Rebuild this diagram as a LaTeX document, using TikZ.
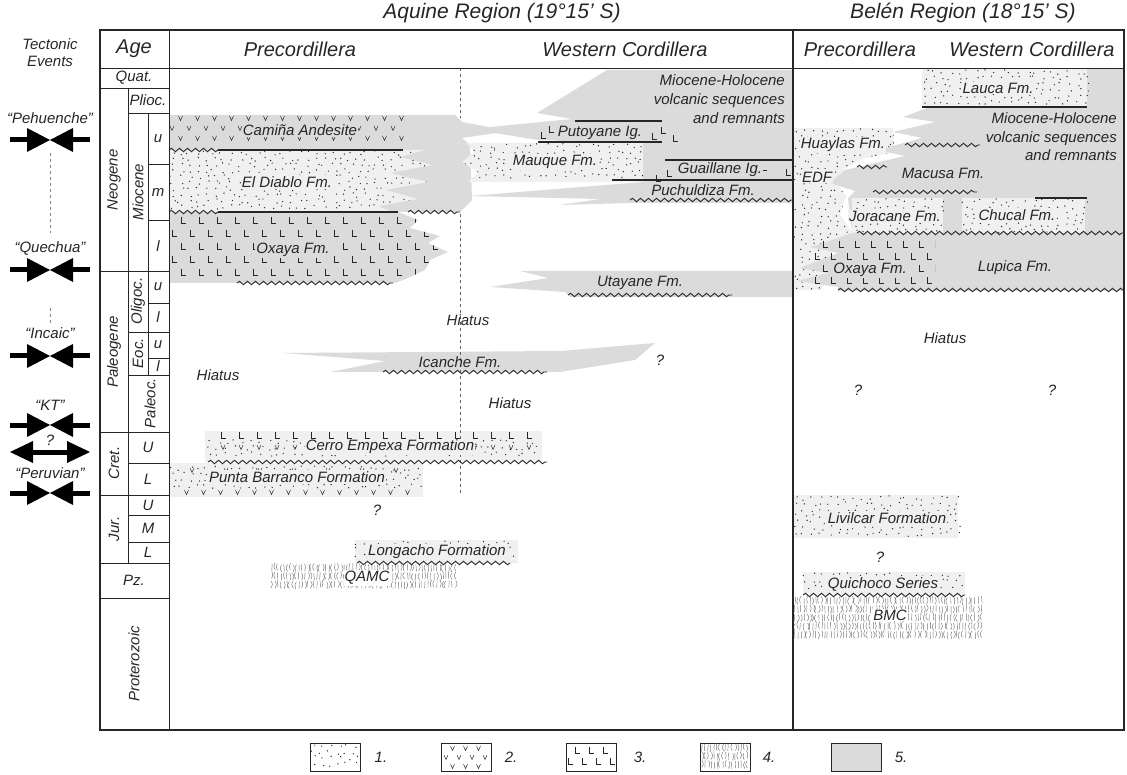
\documentclass[tikz,border=0pt]{standalone}
\usepackage{fontspec}
\setmainfont{Liberation Sans}
\usetikzlibrary{decorations.pathmorphing}

\definecolor{volc}{gray}{0.86}
\definecolor{sedi}{gray}{0.94}
\definecolor{ink}{gray}{0.15}

% lithology fills, all in pixel units: x1 y1 x2 y2 (dx dy)
\newcommand\sandpat[4]{%
  \pgfmathtruncatemacro\snc{(#3-#1-3)/8.5}\pgfmathtruncatemacro\snr{(#4-#2-3)/6}%
  \foreach \j in {0,...,\snc}{%
    \foreach \k in {0,...,\snr}{%
      \pgfmathsetmacro\xx{#1+3+\j*8.5+3.5*rand}\pgfmathsetmacro\yy{#2+3+\k*6+2.2*rand}%
      \fill[ink] (\xx,\yy) circle[radius=0.7pt];}}}
\newcommand\vpat[6]{%
  \pgfmathtruncatemacro\vnr{(#4-#2)/#6}%
  \foreach \k in {0,...,\vnr}{%
    \pgfmathsetmacro\yy{#2+\k*#6}%
    \pgfmathsetmacro\vxa{#1+mod(\k+1,2)*#5/2}%
    \pgfmathtruncatemacro\vnc{(#3-\vxa)/#5}%
    \foreach \j in {0,...,\vnc}{%
      \pgfmathsetmacro\xx{\vxa+\j*#5}%
      \draw[ink,line width=0.5pt] (\xx-2,\yy-2) -- (\xx,\yy+2.5) -- (\xx+2,\yy-2);}}}
\newcommand\lpat[6]{%
  \pgfmathtruncatemacro\lnr{(#4-#2)/#6}%
  \foreach \k in {0,...,\lnr}{%
    \pgfmathsetmacro\yy{#2+\k*#6}%
    \pgfmathsetmacro\lxa{#1+mod(\k+1,2)*#5/2}%
    \pgfmathtruncatemacro\lnc{(#3-\lxa)/#5}%
    \foreach \j in {0,...,\lnc}{%
      \pgfmathsetmacro\xx{\lxa+\j*#5}%
      \draw[ink,line width=0.7pt] (\xx,\yy-3) -- (\xx,\yy+3) -- (\xx+5,\yy+3);}}}
\newcommand\schpat[4]{%
  \pgfmathtruncatemacro\mnc{(#3-#1)/3}\pgfmathtruncatemacro\mnr{(#4-#2-8)/8.5}%
  \foreach \j in {0,...,\mnc}{%
    \foreach \k in {0,...,\mnr}{%
      \pgfmathsetmacro\xx{#1+\j*3+0.8*rand}\pgfmathsetmacro\yy{#2+\k*8.5+rand}%
      \draw[black!55,line width=0.45pt] (\xx,\yy) .. controls (\xx+2.2*rand,\yy+3.5) .. (\xx+0.6*rand,\yy+7);}}}
% tectonic symbols
\newcommand\squeezeat[1]{%
  \fill (10,#1-2.5) rectangle (29,#1+2.5);
  \fill (27,#1-12) -- (50,#1) -- (27,#1+12) -- cycle;
  \fill (73,#1-12) -- (50,#1) -- (73,#1+12) -- cycle;
  \fill (71,#1-2.5) rectangle (90,#1+2.5);}
\newcommand\stretchat[1]{%
  \fill (10,#1) -- (33,#1-11) -- (33,#1+11) -- cycle;
  \fill (32,#1-2.5) rectangle (68,#1+2.5);
  \fill (90,#1) -- (67,#1-11) -- (67,#1+11) -- cycle;}

\begin{document}
\begin{tikzpicture}[x=1pt,y=-1pt]
\tikzset{lab/.style={font=\fontsize{15}{17}\selectfont\itshape,text=ink,inner sep=1pt}}
\tikzset{hd/.style={font=\fontsize{20}{24}\selectfont\itshape,text=ink}}
\tikzset{rgn/.style={font=\fontsize{21}{25}\selectfont\itshape,text=ink}}
\tikzset{unconf/.style={draw=ink,line width=0.9pt,decorate,decoration={snake,amplitude=1.7pt,segment length=8pt}}}
\tikzset{contact/.style={draw=ink,line width=1.1pt}}
\tikzset{grid/.style={draw=ink,line width=0.9pt}}
\tikzset{frame/.style={draw=ink,line width=2.4pt}}
\pgfmathsetseed{11}
\useasboundingbox (0,0) rectangle (1127,775);

% ---- Aquine, fills
\fill[volc] (169,115) -- (455,115) -- (462,122) -- (510,131) -- (462,138) -- (470,145) -- (472,200) -- (460,212) -- (169,212) -- cycle;
\fill[sedi] (169,150) -- (425,150) -- (400,157) -- (432,165) -- (390,173) -- (428,182) -- (385,190) -- (418,199) -- (378,206) -- (392,212) -- (169,212) -- cycle;
\fill[volc] (169,212) -- (398,212) -- (418,220) -- (410,228) -- (440,236) -- (428,243) -- (448,252) -- (430,260) -- (425,270) -- (408,278) -- (395,283) -- (169,283) -- cycle;
\fill[volc] (793,70) -- (607,70) -- (537,113) -- (572,119) -- (470,129) -- (538,140) -- (643,143) -- (643,182) -- (470,196) -- (600,199) -- (560,205) -- (630,203) -- (793,203) -- cycle;
\fill[sedi] (467,143) -- (643,143) -- (643,182) -- (468,182) -- (478,172) -- (462,162) -- (474,152) -- cycle;
\fill[volc] (793,271) -- (520,271) -- (548,278) -- (490,287) -- (565,292) -- (570,297) -- (793,297) -- cycle;
\fill[volc] (283,353) -- (560,351) -- (655,343) -- (635,360) -- (560,372) -- (330,372) -- (385,361) -- cycle;
\fill[sedi] (205,431) rectangle (542,462);
\fill[sedi] (169,463) rectangle (423,497);
\fill[sedi] (355,540) rectangle (518,563);

% ---- Aquine, patterns
\vpat{172}{118}{405}{140}{17}{10}
\begin{scope}
  \clip (169,150) -- (425,150) -- (400,157) -- (432,165) -- (390,173) -- (428,182) -- (385,190) -- (418,199) -- (378,206) -- (392,212) -- (169,212) -- cycle;
  \sandpat{169}{150}{432}{210}
\end{scope}
\begin{scope}
  \clip (169,212) -- (398,212) -- (418,220) -- (410,228) -- (440,236) -- (428,243) -- (448,252) -- (430,260) -- (425,270) -- (408,278) -- (395,283) -- (169,283) -- cycle;
  \lpat{172}{220}{445}{282}{18}{13}
\end{scope}
\begin{scope}
  \clip (467,143) -- (643,143) -- (643,182) -- (468,182) -- (478,172) -- (462,162) -- (474,152) -- cycle;
  \sandpat{460}{143}{643}{181}
\end{scope}
\foreach \p in {(541,135),(549,129),(652,136),(661,130),(673,138),(656,178),(667,173),(762,167),(786,172)}
  \draw[ink,line width=0.7pt] \p ++(0,-3) -- ++(0,6) -- ++(5,0);
\lpat{212}{435}{540}{435}{18}{20}
\sandpat{207}{439}{540}{458}
\vpat{214}{447}{540}{447}{18}{20}
\sandpat{170}{465}{420}{488}
\vpat{178}{492}{420}{492}{17}{20}
\vpat{175}{470}{420}{470}{34}{10}
\sandpat{355}{540}{518}{560}
\schpat{272}{564}{457}{592}

% ---- Aquine, contacts
\draw[dashed,ink!70,line width=0.6pt] (460,68) -- (460,118);
\draw[dashed,ink!70,line width=0.6pt] (460,214) -- (460,495);
\draw[contact] (218,150) -- (403,150);
\draw[unconf] (169,150) -- (218,150);
\draw[contact] (218,212) -- (398,212);
\draw[unconf] (169,212) -- (218,212);
\draw[unconf] (408,212) -- (460,212);
\draw[unconf] (237,283) -- (393,283);
\draw[contact] (575,121) -- (662,121);
\draw[contact] (538,142) -- (662,142);
\draw[contact] (665,160) -- (793,160);
\draw[contact] (612,180) -- (793,180);
\draw[unconf] (630,200) -- (793,200);
\draw[unconf] (568,295) -- (732,295);
\draw[unconf] (383,372) -- (547,372);
\draw[unconf] (208,462) -- (547,462);
\draw[unconf] (357,563) -- (510,563);

% ---- Aquine, labels
\node[lab,fill=volc] (caminha) at (300,130) {Camiña Andesite};
\node[lab,fill=sedi] (diablo) at (287,182) {El Diablo Fm.};
\node[lab,fill=volc] (oxayaA) at (293,250) {Oxaya Fm.};
\node[lab,font=\fontsize{15}{19}\selectfont\itshape,align=right,anchor=east] (mhA) at (786,99) {Miocene-Holocene\\volcanic sequences\\and remnants};
\node[lab,fill=volc] (putoyane) at (600,133) {Putoyane Ig.};
\node[lab,fill=sedi] (mauque) at (555,162) {Mauque Fm.};
\node[lab,fill=volc] (guaillane) at (720,170) {Guaillane Ig.};
\node[lab] (puchuldiza) at (703,190) {Puchuldiza Fm.};
\node[lab] (utayane) at (640,283) {Utayane Fm.};
\node[lab] (hiatusA) at (468,320) {Hiatus};
\node[lab] (icanche) at (460,362) {Icanche Fm.};
\node[lab] (qA) at (660,360) {?};
\node[lab] (hiatusB) at (218,375) {Hiatus};
\node[lab] (hiatusC) at (510,403) {Hiatus};
\node[lab,fill=sedi] (empexa) at (390,447) {Cerro Empexa Formation};
\node[lab,fill=sedi] (barranco) at (297,477) {Punta Barranco Formation};
\node[lab] (qB) at (377,510) {?};
\node[lab,fill=sedi] (longacho) at (437,552) {Longacho Formation};
\node[lab,fill=white] (qamc) at (367,578) {QAMC};

% ---- Belen, fills
\fill[sedi] (793,128) -- (893,128) -- (895,152) -- (865,158) -- (845,168) -- (836,182) -- (846,196) -- (840,215) -- (852,232) -- (836,242) -- (828,262) -- (822,290) -- (793,290) -- cycle;
\begin{scope}
  \clip (793,128) -- (893,128) -- (895,152) -- (865,158) -- (845,168) -- (836,182) -- (846,196) -- (840,215) -- (852,232) -- (836,242) -- (828,262) -- (822,290) -- (793,290) -- cycle;
  \sandpat{791}{128}{896}{289}
\end{scope}
\fill[volc] (1124,69) -- (1087,69) -- (1087,107) -- (930,107) -- (903,117) -- (935,122) -- (893,132) -- (922,138) -- (878,150) -- (905,156) -- (845,170) -- (830,183) -- (855,191) -- (848,198) -- (852,233) -- (1124,233) -- cycle;
\fill[sedi] (922,69) rectangle (1087,107);
\sandpat{922}{69}{1087}{105}
\fill[sedi] (852,198) rectangle (943,233);
\sandpat{852}{198}{943}{231}
\fill[sedi] (962,198) rectangle (1085,233);
\sandpat{962}{198}{1085}{231}
\fill[volc] (1124,233) -- (852,233) -- (835,239) -- (810,247) -- (838,253) -- (800,268) -- (828,273) -- (797,281) -- (838,287) -- (838,291) -- (1124,291) -- cycle;
\begin{scope}
  \clip (813,238) rectangle (935,284);
  \lpat{815}{244}{935}{280}{16}{12}
\end{scope}
\fill[sedi] (793,495) rectangle (958,538);
\sandpat{793}{495}{958}{536}
\fill[sedi] (803,572) rectangle (965,595);
\sandpat{803}{572}{965}{592}
\schpat{795}{597}{982}{647}

% ---- Belen, contacts
\draw[contact] (922,107) -- (1087,107);
\draw[unconf] (905,145) -- (980,145);
\draw[unconf] (857,167) -- (887,167);
\draw[unconf] (873,192) -- (977,192);
\draw[contact] (1035,198) -- (1087,198);
\draw[unconf] (857,233) -- (1124,233);
\draw[unconf] (838,290) -- (1124,290);
\draw[unconf] (803,595) -- (965,595);

% ---- Belen, labels
\node[lab,fill=sedi] (lauca) at (998,88) {Lauca Fm.};
\node[lab,font=\fontsize{15}{18.5}\selectfont\itshape,align=right,anchor=east] (mhB) at (1118,137) {Miocene-Holocene\\volcanic sequences\\and remnants};
\node[lab,fill=sedi] (huaylas) at (843,145) {Huaylas Fm.};
\node[lab,fill=sedi] (edf) at (817,177) {EDF};
\node[lab] (macusa) at (943,173) {Macusa Fm.};
\node[lab,fill=sedi] (joracane) at (895,216) {Joracane Fm.};
\node[lab,fill=sedi] (chucal) at (1017,215) {Chucal Fm.};
\node[lab,fill=volc] (oxayaB) at (870,270) {Oxaya Fm.};
\node[lab] (lupica) at (1015,268) {Lupica Fm.};
\node[lab] (hiatusD) at (945,338) {Hiatus};
\node[lab] (qC) at (858,390) {?};
\node[lab] (qD) at (1052,390) {?};
\node[lab,fill=sedi] (livilcar) at (887,518) {Livilcar Formation};
\node[lab] (qE) at (880,557) {?};
\node[lab,fill=sedi] (quichoco) at (883,584) {Quichoco Series};
\node[lab,fill=white] (bmc) at (890,615) {BMC};

% ---- frame and age column
\draw[frame] (100,30) rectangle (1124,730);
\draw[frame] (793,30) -- (793,730);
\draw[grid] (100,68) -- (1124,68);
\draw[grid] (169,30) -- (169,730);
\draw[grid] (128,88) -- (128,563);
\draw[grid] (148,113) -- (148,375);
\foreach \y in {88,271,432,495,563,598} \draw[grid] (100,\y) -- (169,\y);
\foreach \y in {113,332,375,463,515,542} \draw[grid] (128,\y) -- (169,\y);
\foreach \y in {164,220,303,358} \draw[grid] (148,\y) -- (169,\y);

\node[hd] (age) at (134,49) {Age};
\node[hd] (precA) at (300,49) {Precordillera};
\node[hd] (westA) at (625,49) {Western Cordillera};
\node[hd] (precB) at (860,49) {Precordillera};
\node[hd] (westB) at (1032,49) {Western Cordillera};
\node[rgn] (aquine) at (502,13) {Aquine Region (19°15’ S)};
\node[rgn] (belen) at (963,13) {Belén Region (18°15’ S)};

\node[lab] (quat) at (134,78) {Quat.};
\node[lab] (plioc) at (148,100) {Plioc.};
\node[lab] (mu) at (158,139) {u};
\node[lab] (mm) at (158,192) {m};
\node[lab] (ml) at (158,246) {l};
\node[lab,rotate=90] (neogene) at (114,180) {Neogene};
\node[lab,rotate=90] (miocene) at (138,192) {Miocene};
\node[lab,rotate=90] (paleogene) at (114,352) {Paleogene};
\node[lab,rotate=90] (oligoc) at (138,301) {Oligoc.};
\node[lab,rotate=90] (eoc) at (138,353) {Eoc.};
\node[lab,rotate=90] (paleoc) at (150,403) {Paleoc.};
\node[lab] (ou) at (158,287) {u};
\node[lab] (ol) at (158,317) {l};
\node[lab] (eu) at (158,345) {u};
\node[lab] (el) at (158,366) {l};
\node[lab,rotate=90] (cret) at (114,463) {Cret.};
\node[lab] (cu) at (148,447) {U};
\node[lab] (cl) at (148,479) {L};
\node[lab,rotate=90] (jur) at (114,529) {Jur.};
\node[lab] (ju) at (148,505) {U};
\node[lab] (jm) at (148,528) {M};
\node[lab] (jl) at (148,552) {L};
\node[lab] (pz) at (134,580) {Pz.};
\node[lab,rotate=90] (proterozoic) at (134,664) {Proterozoic};

% ---- tectonic events
\node[lab,align=center] (tect) at (50,53) {Tectonic\\Events};
\node[lab] (pehuenche) at (50,118) {“Pehuenche”};
\squeezeat{140}
\node[lab] (quechua) at (50,248) {“Quechua”};
\squeezeat{270}
\node[lab] (incaic) at (50,333) {“Incaic”};
\squeezeat{356}
\node[lab] (kt) at (50,405) {“KT”};
\squeezeat{425}
\node[lab] (qkt) at (50,440) {?};
\stretchat{452}
\node[lab] (peruvian) at (50,473) {“Peruvian”};
\squeezeat{493}
\coordinate (pehB) at (50,153);
\coordinate (queT) at (50,233);
\coordinate (queB) at (50,308);
\coordinate (incT) at (50,323);
\draw[dashed,gray,line width=0.6pt] (pehB) -- (queT);
\draw[dashed,gray,line width=0.6pt] (queB) -- (incT);

% ---- legend
\draw[ink,line width=0.8pt] (310,743) rectangle (360,771);
\sandpat{310}{743}{358}{768}
\node[lab] (leg1) at (381,757) {1.};
\draw[ink,line width=0.8pt] (441,743) rectangle (491,771);
\vpat{446}{748}{488}{766}{13}{9}
\node[lab] (leg2) at (511,757) {2.};
\draw[ink,line width=0.8pt] (566,743) rectangle (616,771);
\lpat{568}{750}{610}{766}{14}{11}
\node[lab] (leg3) at (640,757) {3.};
\draw[ink,line width=0.8pt] (700,743) rectangle (750,771);
\schpat{702}{744}{748}{770}
\node[lab] (leg4) at (769,757) {4.};
\draw[ink,line width=0.8pt,fill=volc] (831,743) rectangle (881,771);
\node[lab] (leg5) at (901,757) {5.};
\end{tikzpicture}
\end{document}
